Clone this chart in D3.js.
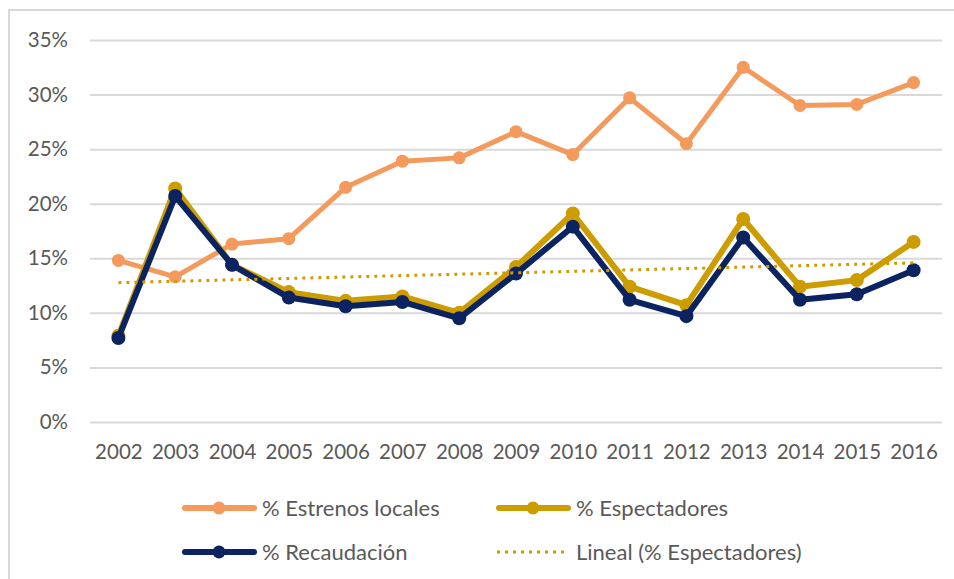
<!DOCTYPE html>
<html>
<head>
<meta charset="utf-8">
<script src="https://cdn.jsdelivr.net/npm/d3@7"></script>
<style>
  body { margin: 0; background: #fff; }
  svg { display: block; }
  text { font-family: Lato, "Open Sans", sans-serif; fill: #595959; }
</style>
</head>
<body>
<svg id="chart" width="954" height="579"></svg>
<script>
'use strict';

// data (share of local films)
var years = ['2002', '2003', '2004', '2005', '2006', '2007', '2008', '2009',
             '2010', '2011', '2012', '2013', '2014', '2015', '2016'];
var estrenos = [0.148, 0.133, 0.163, 0.168, 0.215, 0.239, 0.242, 0.266,
                0.245, 0.297, 0.255, 0.325, 0.290, 0.291, 0.311];
var espectadores = [0.079, 0.214, 0.144, 0.119, 0.111, 0.115, 0.100, 0.142,
                    0.191, 0.124, 0.107, 0.186, 0.124, 0.130, 0.165];
var recaudacion = [0.077, 0.207, 0.144, 0.114, 0.106, 0.110, 0.095, 0.136,
                   0.179, 0.112, 0.097, 0.169, 0.112, 0.117, 0.139];
var yTicks = [0, 0.05, 0.10, 0.15, 0.20, 0.25, 0.30, 0.35];

var colors = {
    estrenos: '#F39A5C',
    espectadores: '#CC9C00',
    recaudacion: '#0B2461'
};

var svg = d3.select('#chart');

// chart frame (runs off the right and bottom edges)
svg.append('rect')
    .attr('x', 9)
    .attr('y', 10)
    .attr('width', 960)
    .attr('height', 600)
    .style('fill', 'none')
    .style('stroke', '#d9d9d9')
    .style('stroke-width', 2);

var x = d3.scalePoint()
    .domain(years)
    .range([90, 942])
    .padding(0.5);

var y = d3.scaleLinear()
    .domain([0, 0.35])
    .range([422, 40]);

// y axis with gridlines
var yAxis = d3.axisLeft(y)
    .tickValues(yTicks)
    .tickSize(-(942 - 90))
    .tickPadding(22)
    .tickFormat(d3.format('.0%'));

var gy = svg.append('g')
    .attr('transform', 'translate(90,0)')
    .call(yAxis);
gy.select('.domain').remove();
gy.selectAll('.tick line')
    .style('stroke', '#d9d9d9')
    .style('stroke-width', 2);
gy.selectAll('.tick text')
    .style('font-size', '20.5px')
    .style('fill', '#595959');

// x axis labels
var xAxis = d3.axisBottom(x)
    .tickSize(0)
    .tickPadding(22);
var gx = svg.append('g')
    .attr('transform', 'translate(0,' + 422 + ')')
    .call(xAxis);
gx.select('.domain').remove();
gx.selectAll('.tick text')
    .style('font-size', '20.5px')
    .style('fill', '#595959');

var line = d3.line()
    .x(function(d, i) { return x(years[i]); })
    .y(function(d) { return y(d); });

var series = [
    { name: '% Estrenos locales', values: estrenos, color: colors.estrenos, width: 5, r: 6.5 },
    { name: '% Espectadores', values: espectadores, color: colors.espectadores, width: 6, r: 7 },
    { name: '% Recaudación', values: recaudacion, color: colors.recaudacion, width: 6, r: 7 }
];

series.forEach(function(s) {
    var g = svg.append('g');
    g.append('path')
        .datum(s.values)
        .attr('d', line)
        .style('fill', 'none')
        .style('stroke', s.color)
        .style('stroke-width', s.width)
        .style('stroke-linejoin', 'round')
        .style('stroke-linecap', 'round');
    g.selectAll('circle')
        .data(s.values)
        .enter()
        .append('circle')
        .attr('cx', function(d, i) { return x(years[i]); })
        .attr('cy', function(d) { return y(d); })
        .attr('r', s.r)
        .style('fill', s.color);
});

// linear trend of % Espectadores (least squares)
var n = espectadores.length;
var xs = d3.range(n);
var mx = d3.mean(xs);
var my = d3.mean(espectadores);
var slope = d3.sum(xs, function(i) { return (i - mx) * (espectadores[i] - my); }) /
    d3.sum(xs, function(i) { return (i - mx) * (i - mx); });
var icpt = my - slope * mx;
var trend = xs.map(function(i) { return icpt + slope * i; });

svg.append('path')
    .datum(trend)
    .attr('d', line)
    .style('fill', 'none')
    .style('stroke', colors.espectadores)
    .style('stroke-width', 3)
    .style('stroke-dasharray', '3,5');

// legend
var legendItems = [
    { name: '% Estrenos locales', color: colors.estrenos, x: 183, y: 508, type: 'marker' },
    { name: '% Espectadores', color: colors.espectadores, x: 497, y: 508, type: 'marker' },
    { name: '% Recaudación', color: colors.recaudacion, x: 183, y: 552, type: 'marker' },
    { name: 'Lineal (% Espectadores)', color: colors.espectadores, x: 497, y: 552, type: 'dots' }
];

var lg = svg.append('g');
legendItems.forEach(function(item) {
    if (item.type === 'marker') {
        lg.append('line')
            .attr('x1', item.x + 2)
            .attr('x2', item.x + 71)
            .attr('y1', item.y)
            .attr('y2', item.y)
            .style('stroke', item.color)
            .style('stroke-width', 6)
            .style('stroke-linecap', 'round');
        lg.append('circle')
            .attr('cx', item.x + 36)
            .attr('cy', item.y)
            .attr('r', 6.5)
            .style('fill', item.color);
    } else {
        lg.append('line')
            .attr('x1', item.x)
            .attr('x2', item.x + 70)
            .attr('y1', item.y)
            .attr('y2', item.y)
            .style('stroke', item.color)
            .style('stroke-width', 3)
            .style('stroke-dasharray', '3,5');
    }
    lg.append('text')
        .attr('x', item.x + 79)
        .attr('y', item.y)
        .attr('dy', '0.35em')
        .style('font-size', '22px')
        .text(item.name);
});
</script>
</body>
</html>
